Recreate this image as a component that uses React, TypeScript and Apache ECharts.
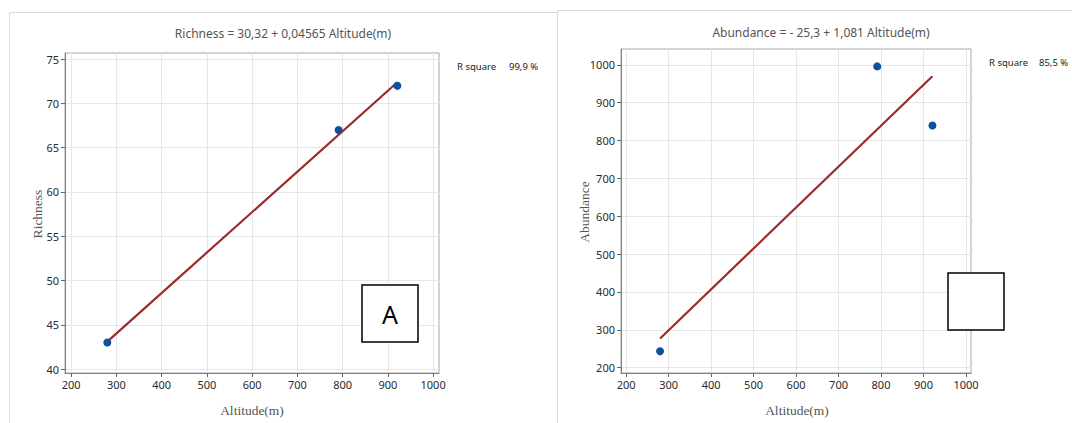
import React, { useEffect, useRef } from "react";
import * as echarts from "echarts";

const altitude = [280, 791, 921];
const richness = [43, 67, 72];
const abundance = [243, 996, 840];

// Fitted-line end points
const fitAltitude = [280, 921];
const richnessFit = [43.1, 72.4];
const abundanceFit = [277, 970];

// Tick labels
const altitudeTicks = [200, 300, 400, 500, 600, 700, 800, 900, 1000];
const richnessTicks = [40, 45, 50, 55, 60, 65, 70, 75];
const abundanceTicks = [200, 300, 400, 500, 600, 700, 800, 900, 1000];

const titles = [
  "Richness = 30,32 + 0,04565 Altitude(m)",
  "Abundance = - 25,3 + 1,081 Altitude(m)",
];
const rSquare = ["99,9 %", "85,5 %"];

const SANS = "'Noto Sans', 'Open Sans', sans-serif";
const SERIF = "'Liberation Serif', 'DejaVu Serif', serif";

export default function App() {
  const ref = useRef<HTMLDivElement>(null);

  useEffect(() => {
    if (!ref.current) return;
    const chart = echarts.init(ref.current, null, { renderer: "svg" });

    const plain = (v: number) => String(v);

    const xAxisBase = (gridIndex: number, min: number, max: number) => ({
      type: "value",
      gridIndex,
      min,
      max,
      splitNumber: 8,
      axisLine: { show: true, onZero: false, lineStyle: { color: "#808080", width: 1 } },
      axisTick: {
        show: true,
        length: 4,
        customValues: altitudeTicks,
        lineStyle: { color: "#666" },
      },
      axisLabel: {
        customValues: altitudeTicks,
        formatter: plain,
        fontFamily: SANS,
        fontSize: 11,
        color: "#2a2a2a",
        margin: 6,
      },
      splitLine: { show: true, lineStyle: { color: "#e6e6e6", width: 1 } },
    });

    const yAxisBase = (gridIndex: number, min: number, max: number, ticks: number[], split: number) => ({
      type: "value",
      gridIndex,
      min,
      max,
      splitNumber: split,
      axisLine: { show: true, onZero: false, lineStyle: { color: "#808080", width: 1 } },
      axisTick: { show: true, length: 4, customValues: ticks, lineStyle: { color: "#666" } },
      axisLabel: {
        customValues: ticks,
        formatter: plain,
        fontFamily: SANS,
        fontSize: 11,
        color: "#2a2a2a",
        margin: 6,
      },
      splitLine: { show: true, lineStyle: { color: "#e6e6e6", width: 1 } },
    });

    const pointStyle = { color: "#0f4f9e", opacity: 1 };
    const lineStyle = { color: "#9b2a2a", width: 2.2 };

    chart.setOption({
      animation: false,
      backgroundColor: "#ffffff",
      grid: [
        { left: 65, top: 53, width: 374, height: 320, show: true, borderColor: "#a8a8a8", borderWidth: 1, backgroundColor: "transparent" },
        { left: 621, top: 49, width: 350, height: 324, show: true, borderColor: "#a8a8a8", borderWidth: 1, backgroundColor: "transparent" },
      ],
      xAxis: [xAxisBase(0, 186.5, 1013), xAxisBase(1, 188, 1011.8)],
      yAxis: [
        yAxisBase(0, 39.55, 75.7, richnessTicks, 7),
        yAxisBase(1, 185.7, 1042, abundanceTicks, 8),
      ],
      series: [
        {
          type: "line",
          xAxisIndex: 0,
          yAxisIndex: 0,
          data: fitAltitude.map((x, i) => [x, richnessFit[i]]),
          showSymbol: false,
          lineStyle,
          z: 3,
        },
        {
          type: "scatter",
          xAxisIndex: 0,
          yAxisIndex: 0,
          data: altitude.map((x, i) => [x, richness[i]]),
          symbolSize: 8,
          itemStyle: pointStyle,
          z: 4,
        },
        {
          type: "line",
          xAxisIndex: 1,
          yAxisIndex: 1,
          data: fitAltitude.map((x, i) => [x, abundanceFit[i]]),
          showSymbol: false,
          lineStyle,
          z: 3,
        },
        {
          type: "scatter",
          xAxisIndex: 1,
          yAxisIndex: 1,
          data: altitude.map((x, i) => [x, abundance[i]]),
          symbolSize: 8,
          itemStyle: pointStyle,
          z: 4,
        },
      ],
      graphic: [
        // panel borders
        { type: "rect", z: -10, shape: { x: 9.5, y: 12.5, width: 548, height: 420 }, style: { fill: "none", stroke: "#dcdcdc", lineWidth: 1 } },
        { type: "rect", z: -10, shape: { x: 557.5, y: 10.5, width: 520, height: 420 }, style: { fill: "none", stroke: "#dcdcdc", lineWidth: 1 } },
        // titles
        { type: "text", x: 283, y: 33, style: { text: titles[0], fontFamily: SANS, fontSize: 12, fill: "#555", align: "center", verticalAlign: "middle" } },
        { type: "text", x: 821, y: 32, style: { text: titles[1], fontFamily: SANS, fontSize: 12, fill: "#555", align: "center", verticalAlign: "middle" } },
        // R square
        { type: "text", x: 457, y: 66, style: { text: "R square", fontFamily: SANS, fontSize: 9.5, fill: "#222", align: "left", verticalAlign: "middle" } },
        { type: "text", x: 509, y: 66, style: { text: rSquare[0], fontFamily: SANS, fontSize: 9.5, fill: "#222", align: "left", verticalAlign: "middle" } },
        { type: "text", x: 989, y: 62.5, style: { text: "R square", fontFamily: SANS, fontSize: 9.5, fill: "#222", align: "left", verticalAlign: "middle" } },
        { type: "text", x: 1039, y: 62.5, style: { text: rSquare[1], fontFamily: SANS, fontSize: 9.5, fill: "#222", align: "left", verticalAlign: "middle" } },
        // axis names
        { type: "text", x: 252, y: 410, style: { text: "Altitude(m)", fontFamily: SERIF, fontSize: 13.5, fill: "#555", align: "center", verticalAlign: "middle" } },
        { type: "text", x: 797, y: 410, style: { text: "Altitude(m)", fontFamily: SERIF, fontSize: 13.5, fill: "#555", align: "center", verticalAlign: "middle" } },
        { type: "text", x: 37.5, y: 214, rotation: Math.PI / 2, style: { text: "Richness", fontFamily: SERIF, fontSize: 13.5, fill: "#555", align: "center", verticalAlign: "middle" } },
        { type: "text", x: 584, y: 212, rotation: Math.PI / 2, style: { text: "Abundance", fontFamily: SERIF, fontSize: 13.5, fill: "#555", align: "center", verticalAlign: "middle" } },
        // label boxes
        { type: "rect", z: 20, shape: { x: 362, y: 285, width: 56, height: 57 }, style: { fill: "#fff", stroke: "#000", lineWidth: 1.5 } },
        { type: "text", z: 21, x: 390, y: 314, style: { text: "A", fontFamily: SANS, fontSize: 25, fill: "#000", align: "center", verticalAlign: "middle" } },
        { type: "rect", z: 20, shape: { x: 948, y: 273, width: 56, height: 57 }, style: { fill: "#fff", stroke: "#000", lineWidth: 1.5 } },
      ],
    });

    return () => chart.dispose();
  }, []);

  return (
    <div
      ref={ref}
      style={{ position: "fixed", left: 0, top: 0, width: 1072, height: 423, background: "#fff" }}
    />
  );
}
